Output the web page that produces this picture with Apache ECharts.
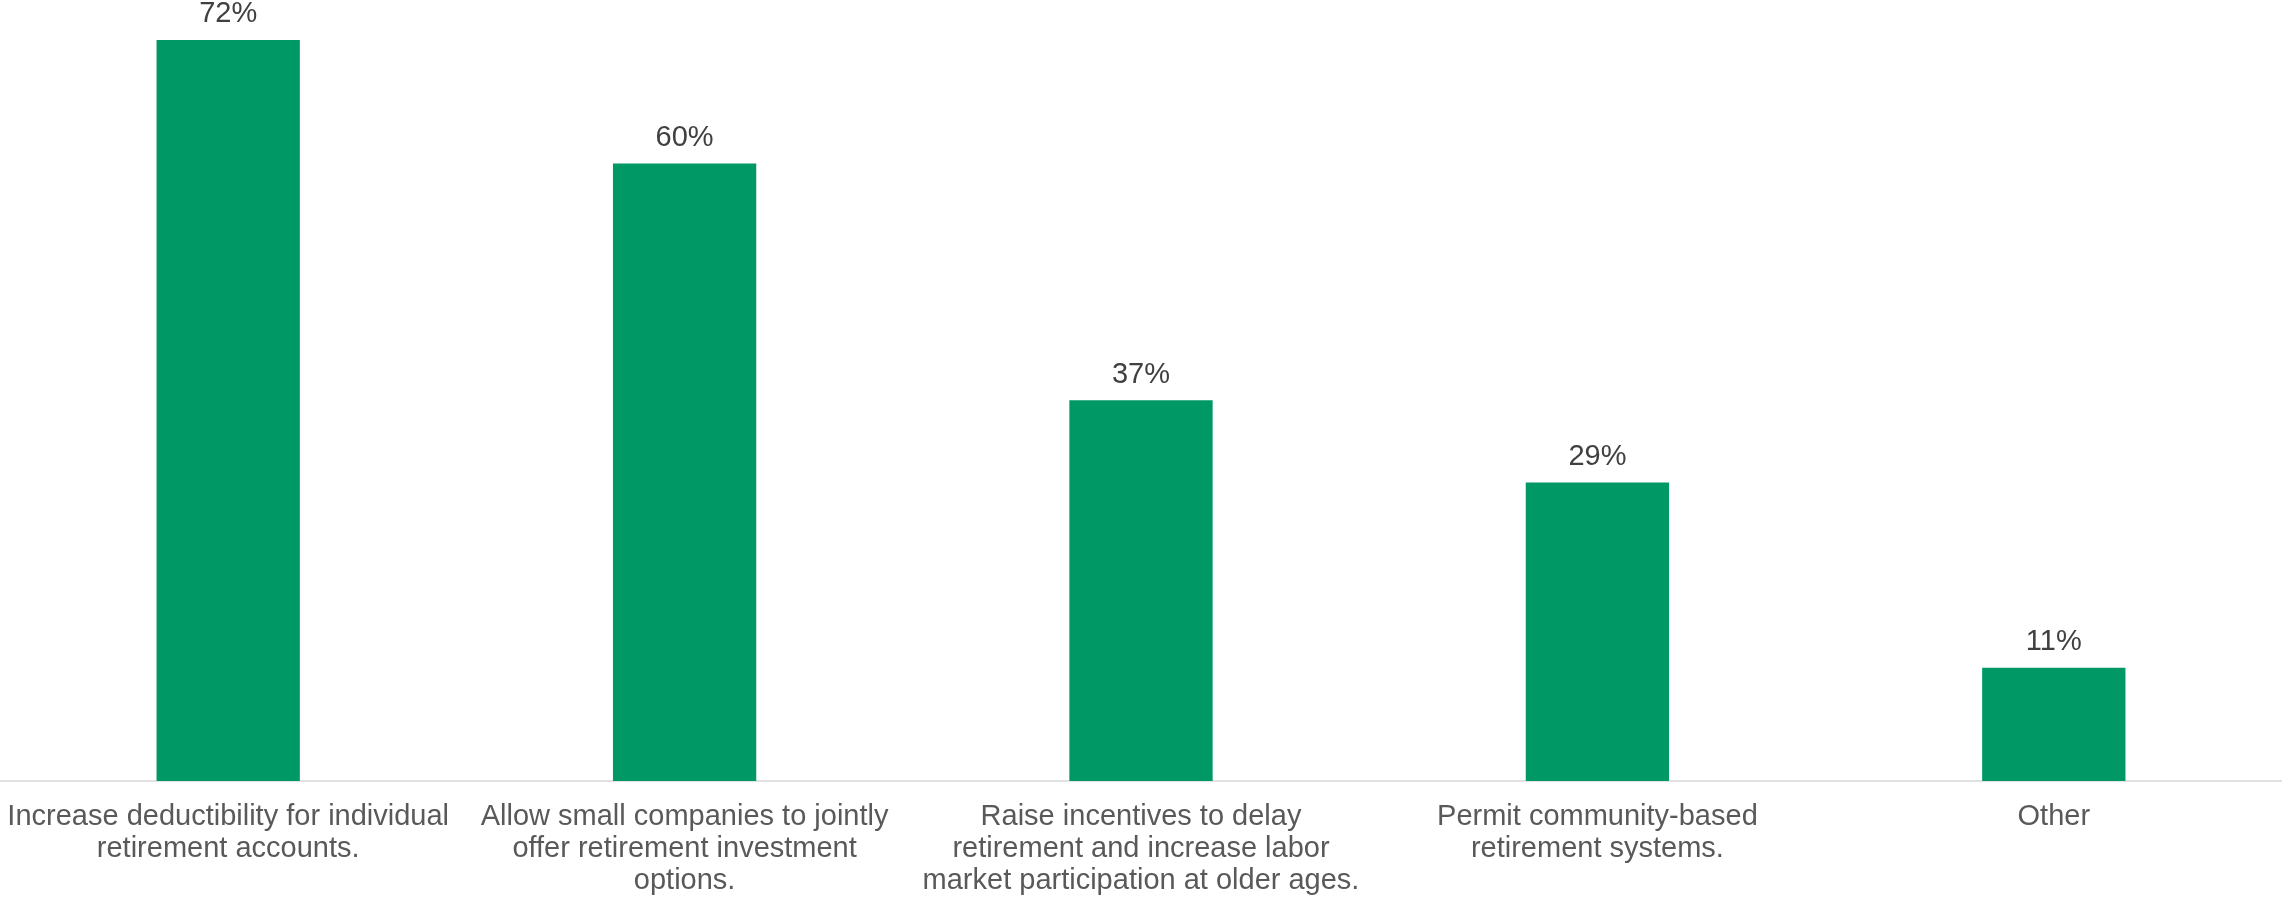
<!DOCTYPE html>
<html>
<head>
<meta charset="utf-8">
<title>Retirement policy options</title>
<script src="https://cdn.jsdelivr.net/npm/echarts@6/dist/echarts.min.js"></script>
<style>
  html, body { margin: 0; padding: 0; background: #ffffff; }
  #chart { width: 2282px; height: 900px; }
</style>
</head>
<body>
<div id="chart"></div>
<script>
// Share of respondents supporting each policy option (%)
const categories = [
  'Increase deductibility for individual\nretirement accounts.',
  'Allow small companies to jointly\noffer retirement investment\noptions.',
  'Raise incentives to delay\nretirement and increase labor\nmarket participation at older ages.',
  'Permit community-based\nretirement systems.',
  'Other'
];
const shares = [72, 60, 37, 29, 11];

const chart = echarts.init(document.getElementById('chart'), null, { renderer: 'canvas' });

chart.setOption({
  animation: false,
  backgroundColor: '#ffffff',
  textStyle: { fontFamily: 'Arial, "Liberation Sans", sans-serif' },
  grid: { left: -1, right: -3, top: 9, bottom: 119, containLabel: false },
  xAxis: {
    type: 'category',
    data: categories,
    axisTick: { show: false },
    axisLine: { show: true, lineStyle: { color: '#d9d9d9', width: 1.5 } },
    axisLabel: {
      interval: 0,
      margin: 20,
      color: '#595959',
      fontSize: 29,
      lineHeight: 32,
      align: 'center',
      fontFamily: 'Arial, "Liberation Sans", sans-serif'
    }
  },
  yAxis: {
    type: 'value',
    min: 0,
    max: 75,
    show: false,
    splitLine: { show: false }
  },
  series: [{
    type: 'bar',
    data: shares,
    barWidth: '31.4%',
    itemStyle: { color: '#009966' },
    label: {
      show: true,
      position: 'top',
      distance: 11,
      formatter: '{c}%',
      color: '#404040',
      fontSize: 29,
      fontFamily: 'Arial, "Liberation Sans", sans-serif'
    }
  }]
});
</script>
</body>
</html>
